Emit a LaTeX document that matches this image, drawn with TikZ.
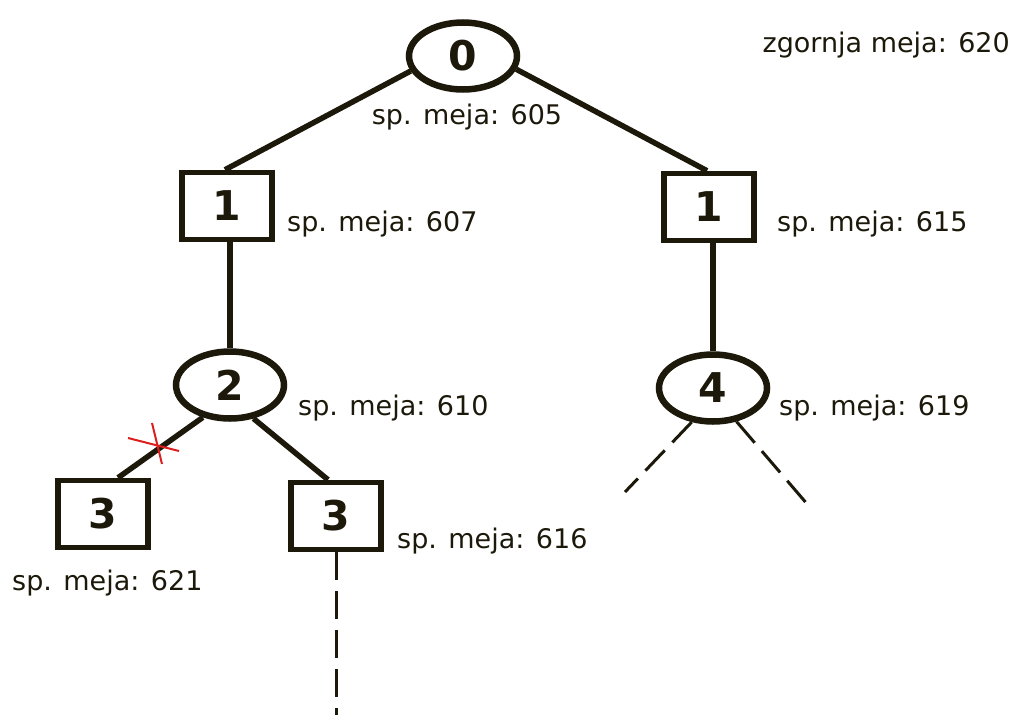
\documentclass[tikz,border=0pt]{standalone}
\usepackage{fontspec}
\setmainfont{DejaVu Sans}
\usetikzlibrary{shapes.geometric}
\definecolor{ink}{RGB}{28,24,10}
\definecolor{cut}{RGB}{220,30,30}
\begin{document}
\begin{tikzpicture}[x=1pt,y=-1pt,
  every node/.style={text=ink},
  oval/.style={ellipse,draw=ink,line width=6.5pt,minimum width=108pt,minimum height=67pt,inner sep=0pt,font=\fontsize{41}{41}\selectfont\bfseries},
  box/.style={rectangle,draw=ink,line width=5.5pt,minimum width=90pt,minimum height=67pt,inner sep=0pt,font=\fontsize{41}{41}\selectfont\bfseries},
  edge/.style={draw=ink,line width=5.5pt},
  open/.style={draw=ink,line width=3pt,dash pattern=on 28pt off 11pt},
  lbl/.style={font=\fontsize{27}{27}\selectfont,inner sep=0pt},
  lblw/.style={lbl,anchor=west},
  cross/.style={draw=cut,line width=2pt}]
\useasboundingbox (0,0) rectangle (1014,715);
\node[oval] (n0) at (463,56) {0};
\node[box] (n1l) at (227,206) {1};
\node[box] (n1r) at (709,207) {1};
\node[oval] (n2) at (230,385) {2};
\node[oval] (n4) at (713,388) {4};
\node[box] (n3l) at (103,514) {3};
\node[box] (n3r) at (336,516) {3};

\coordinate (d4a) at (625,492);
\coordinate (d4b) at (808,505);
\coordinate (d3) at (336,715);

\path[edge] (n0.196) -- (n1l.north -| 225,0);
\path[edge] (n0.346) -- (n1r.north -| 707,0);
\path[edge] (n1l.south -| 230,0) -- (n2.north -| 230,0);
\path[edge] (n1r.south -| 713,0) -- (n4.north -| 713,0);
\path[edge] (n2.230) -- (n3l.north -| 118,0);
\path[edge] (n2.305) -- (n3r.north -| 328,0);
\path[open] (n4.238) -- (d4a);
\path[open] (n4.305) -- (d4b);
\path[open] (n3r.south) -- (d3);

\path[cross] (128,438) -- (179,451);
\path[cross] (152,423) -- (162,464);

\node[lbl,anchor=east] (top) at (1010,45) {zgornja meja: 620};
\node[lbl] (l0) at (467,117) {sp. meja: 605};
\node[lblw] (l1l) at (287,224) {sp. meja: 607};
\node[lblw] (l1r) at (777,224) {sp. meja: 615};
\node[lblw] (l2) at (298,408) {sp. meja: 610};
\node[lblw] (l4) at (779,408) {sp. meja: 619};
\node[lblw] (l3r) at (397,541) {sp. meja: 616};
\node[lblw] (l3l) at (12,583) {sp. meja: 621};
\end{tikzpicture}
\end{document}
